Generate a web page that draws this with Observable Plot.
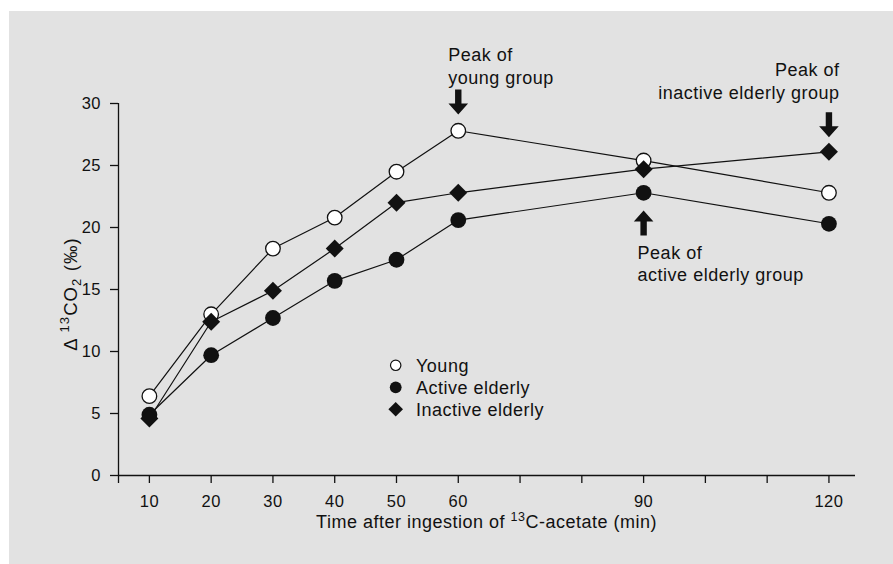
<!DOCTYPE html>
<html><head><meta charset="utf-8">
<script src="https://cdn.jsdelivr.net/npm/d3@7"></script>
<script src="https://cdn.jsdelivr.net/npm/@observablehq/plot@0.6"></script>
<style>
html,body{margin:0;padding:0;background:#fff;}
#wrap{position:relative;width:893px;height:564px;overflow:hidden;}
#bg{position:absolute;left:9px;top:11px;right:0;bottom:0;background:#e2e2e2;}
#chart{position:absolute;left:0;top:0;}
svg text{letter-spacing:0.5px;}
</style></head><body>
<div id="wrap"><div id="bg"></div><div id="chart"></div></div>
<script>
// ---- data ----
const times = [10, 20, 30, 40, 50, 60, 90, 120];
const young = [6.4, 13.0, 18.3, 20.8, 24.5, 27.8, 25.4, 22.8];
const activeElderly = [4.9, 9.7, 12.7, 15.7, 17.4, 20.6, 22.8, 20.3];
const inactiveElderly = [4.6, 12.4, 14.9, 18.3, 22.0, 22.8, 24.7, 26.1];
const groups = ["Young", "Active elderly", "Inactive elderly"];
const xTicks = [5, 10, 20, 30, 40, 50, 60, 70, 80, 90, 100, 110, 120];
const xTickLabels = [10, 20, 30, 40, 50, 60, 90, 120];
const yTicks = [0, 5, 10, 15, 20, 25, 30];
const xDomain = [5, 124.3];
const yDomain = [0, 30];
const peakTimes = {young: 60, active: 90, inactive: 120};

// ---- build tables ----
const seriesValues = [young, activeElderly, inactiveElderly];
const rows = groups.flatMap((g, k) => times.map((t, i) => ({t, v: seriesValues[k][i], g})));
const youngRows = rows.filter(d => d.g === groups[0]);
const activeRows = rows.filter(d => d.g === groups[1]);
const inactiveRows = rows.filter(d => d.g === groups[2]);
const peakYoung = youngRows.filter(d => d.t === peakTimes.young);
const peakActive = activeRows.filter(d => d.t === peakTimes.active);
const peakInactive = inactiveRows.filter(d => d.t === peakTimes.inactive);

const INK = "#111";
const FONT = "'Liberation Sans', Arial, Helvetica, sans-serif";

// filled block arrow pointing along the vector
const blockArrow = {
  draw(ctx, l) {
    const h = 11, hw = 9.8, sw = 3.2;
    ctx.moveTo(-sw, 0);
    ctx.lineTo(-sw, -(l - h));
    ctx.lineTo(-hw, -(l - h));
    ctx.lineTo(0, -l);
    ctx.lineTo(hw, -(l - h));
    ctx.lineTo(sw, -(l - h));
    ctx.lineTo(sw, 0);
    ctx.closePath();
  }
};

const labelSet = new Set(xTickLabels);

const plot = Plot.plot({
  width: 893,
  height: 564,
  marginLeft: 118,
  marginRight: 38,
  marginTop: 103,
  marginBottom: 89,
  style: {background: "transparent", color: INK, fontFamily: FONT, fontSize: "16.5px"},
  x: {domain: xDomain},
  y: {domain: yDomain},
  marks: [
    Plot.ruleX([xDomain[0]], {stroke: INK, strokeWidth: 1.3}),
    Plot.ruleY([yDomain[0]], {stroke: INK, strokeWidth: 1.3}),
    Plot.axisX({ticks: xTicks, tickFormat: d => labelSet.has(d) ? String(d) : "", tickSize: 8, tickPadding: 12, strokeWidth: 1.3, fontSize: 16.5, label: null}),
    Plot.axisY({ticks: yTicks, tickSize: 8, tickPadding: 9.5, strokeWidth: 1.3, fontSize: 16.5, label: null}),
    Plot.line(rows, {x: "t", y: "v", z: "g", stroke: INK, strokeWidth: 1.2}),
    Plot.dot(youngRows, {x: "t", y: "v", r: 7.3, fill: "white", stroke: INK, strokeWidth: 1.3}),
    Plot.dot(activeRows, {x: "t", y: "v", r: 7.9, fill: INK, stroke: "none"}),
    Plot.dot(inactiveRows, {x: "t", y: "v", symbol: "diamond2", r: 8.1, fill: INK, stroke: "none"}),
    // arrows
    Plot.vector(peakYoung, {x: "t", y: "v", length: 25, rotate: 180, anchor: "end", shape: blockArrow, fill: INK, stroke: "none", dy: -16.3}),
    Plot.vector(peakInactive, {x: "t", y: "v", length: 25, rotate: 180, anchor: "end", shape: blockArrow, fill: INK, stroke: "none", dy: -14.7}),
    Plot.vector(peakActive, {x: "t", y: "v", length: 25, rotate: 0, anchor: "end", shape: blockArrow, fill: INK, stroke: "none", dy: 17.7}),
    // annotation texts
    Plot.text(peakYoung, {x: "t", y: "v", text: () => "Peak of\nyoung group", textAnchor: "start", lineAnchor: "bottom", lineHeight: 1.256, fontSize: 18, fill: INK, dx: -10, dy: -47}),
    Plot.text(peakInactive, {x: "t", y: "v", text: () => "Peak of\ninactive elderly group", textAnchor: "end", lineAnchor: "bottom", lineHeight: 1.256, fontSize: 18, fill: INK, dx: 10.5, dy: -53.1}),
    Plot.text(peakActive, {x: "t", y: "v", text: () => "Peak of\nactive elderly group", textAnchor: "start", lineAnchor: "bottom", lineHeight: 1.256, fontSize: 18, fill: INK, dx: -6, dy: 88.4})
  ]
});
document.getElementById("chart").appendChild(plot);

// ---- axis titles and legend (added to the same SVG) ----
const svg = d3.select(plot);
const xr = plot.scale("x").range;
const yr = plot.scale("y").range;

const xt = svg.append("text")
  .attr("x", (xr[0] + xr[1]) / 2).attr("y", 528)
  .attr("text-anchor", "middle").attr("font-size", 18).attr("fill", INK).attr("font-family", FONT);
xt.append("tspan").text("Time after ingestion of ");
xt.append("tspan").attr("font-size", 12.5).attr("dy", -7.5).text("13");
xt.append("tspan").attr("dy", 7.5).text("C-acetate (min)");

const yt = svg.append("text")
  .attr("transform", `translate(76.5,${(yr[0] + yr[1]) / 2 + 5}) rotate(-90)`)
  .attr("text-anchor", "middle").attr("font-size", 18.5).attr("fill", INK).attr("font-family", FONT)
  .style("letter-spacing", "1.1px");
yt.append("tspan").text("\u0394\u2009");
yt.append("tspan").attr("font-size", 13).attr("dy", -7.5).text("13");
yt.append("tspan").attr("dy", 7.5).text("CO");
yt.append("tspan").attr("font-size", 13).attr("dy", 4.5).text("2");
yt.append("tspan").attr("dy", -4.5).text(" (\u2030)");

const lg = svg.append("g").attr("font-family", FONT).attr("font-size", 18).attr("fill", INK).attr("text-anchor", "start");
const legendRows = [
  {g: groups[0], cy: 365.3},
  {g: groups[1], cy: 387.3},
  {g: groups[2], cy: 409.3}
];
legendRows.forEach((d, i) => {
  const cx = 395.7;
  if (i === 0) lg.append("circle").attr("cx", cx).attr("cy", d.cy).attr("r", 5.2).attr("fill", "white").attr("stroke", INK).attr("stroke-width", 1.2);
  if (i === 1) lg.append("circle").attr("cx", cx).attr("cy", d.cy).attr("r", 5.9).attr("fill", INK);
  if (i === 2) lg.append("path").attr("d", `M${cx},${d.cy - 7.3}L${cx + 7.3},${d.cy}L${cx},${d.cy + 7.3}L${cx - 7.3},${d.cy}Z`).attr("fill", INK);
  lg.append("text").attr("x", 416).attr("y", d.cy + 6.5).attr("text-anchor", "start").text(d.g);
});
</script>
</body></html>
